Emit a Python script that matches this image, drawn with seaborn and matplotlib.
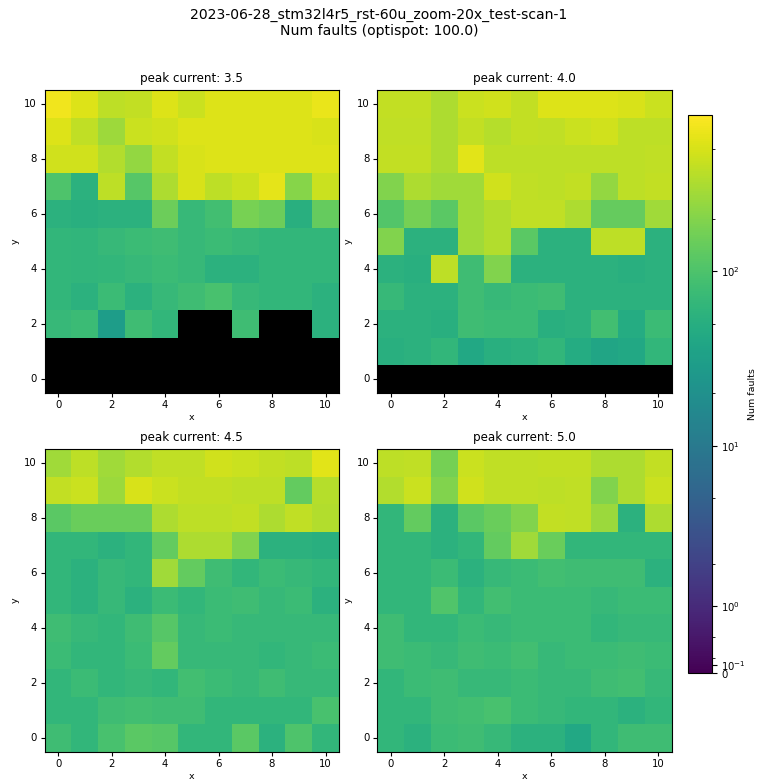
import numpy as np
import matplotlib
matplotlib.use("Agg")
import matplotlib.pyplot as plt
import matplotlib.colors as mcolors
import matplotlib.cm as cm
import seaborn as sns

# Num faults per scan position, rows listed from y=10 (top) down to y=0, x = 0..10
peak_currents = [3.5, 4.0, 4.5, 5.0]

faults_35 = [
    [680, 543, 376, 405, 543, 436, 543, 543, 543, 543, 610],
    [543, 390, 270, 436, 470, 543, 543, 543, 543, 543, 505],
    [470, 470, 338, 242, 405, 505, 543, 543, 543, 543, 543],
    [100, 55, 376, 112, 315, 505, 376, 436, 590, 210, 436],
    [55, 52, 55, 55, 150, 69, 86, 175, 150, 52, 140],
    [64, 62, 69, 75, 80, 69, 75, 69, 64, 64, 64],
    [64, 62, 64, 69, 75, 69, 55, 55, 64, 64, 64],
    [64, 55, 75, 55, 69, 80, 93, 69, 64, 64, 55],
    [69, 75, 29, 80, 64, 0, 0, 80, 0, 0, 55],
    [0, 0, 0, 0, 0, 0, 0, 0, 0, 0, 0],
    [0, 0, 0, 0, 0, 0, 0, 0, 0, 0, 0],
]
faults_40 = [
    [405, 405, 315, 436, 470, 405, 543, 543, 543, 505, 436],
    [390, 390, 315, 405, 350, 405, 390, 436, 470, 376, 376],
    [405, 405, 315, 565, 376, 376, 376, 376, 376, 376, 390],
    [195, 315, 280, 280, 470, 390, 376, 405, 242, 376, 405],
    [108, 168, 121, 280, 338, 390, 390, 315, 140, 140, 280],
    [195, 55, 55, 280, 338, 121, 55, 55, 376, 376, 55],
    [55, 52, 376, 80, 195, 55, 55, 55, 55, 52, 55],
    [69, 55, 55, 80, 69, 75, 80, 55, 55, 55, 55],
    [55, 55, 52, 80, 75, 75, 52, 55, 86, 47, 75],
    [52, 55, 64, 41, 52, 55, 64, 47, 38, 41, 64],
    [0, 0, 0, 0, 0, 0, 0, 0, 0, 0, 0],
]
faults_45 = [
    [280, 376, 280, 338, 390, 390, 470, 436, 405, 376, 565],
    [405, 436, 260, 505, 436, 405, 405, 376, 376, 135, 350],
    [121, 145, 145, 145, 315, 376, 376, 405, 315, 390, 338],
    [64, 64, 55, 64, 135, 315, 315, 195, 55, 55, 52],
    [64, 55, 69, 64, 280, 135, 80, 64, 75, 69, 64],
    [64, 55, 69, 55, 75, 64, 75, 80, 69, 75, 55],
    [80, 69, 64, 80, 112, 69, 75, 69, 69, 69, 69],
    [75, 64, 64, 75, 135, 69, 69, 69, 64, 69, 75],
    [64, 75, 64, 69, 64, 86, 75, 69, 80, 69, 69],
    [64, 64, 80, 86, 80, 80, 64, 64, 64, 64, 93],
    [80, 64, 93, 121, 112, 64, 64, 121, 55, 100, 64],
]
faults_50 = [
    [376, 390, 168, 436, 390, 390, 405, 405, 315, 315, 405],
    [338, 436, 195, 470, 390, 390, 376, 390, 195, 315, 436],
    [64, 135, 55, 121, 145, 195, 405, 390, 260, 55, 315],
    [64, 64, 55, 64, 135, 280, 145, 64, 64, 64, 64],
    [64, 64, 75, 55, 69, 75, 86, 80, 80, 80, 55],
    [64, 64, 104, 64, 86, 75, 75, 75, 69, 75, 75],
    [80, 64, 64, 75, 69, 75, 75, 75, 64, 69, 69],
    [80, 75, 69, 80, 75, 86, 69, 75, 75, 80, 75],
    [64, 75, 80, 69, 69, 75, 69, 69, 80, 86, 69],
    [64, 64, 80, 86, 93, 75, 69, 64, 64, 55, 64],
    [64, 55, 75, 80, 69, 55, 55, 41, 64, 80, 80],
]
grids = [faults_35, faults_40, faults_45, faults_50]
tick_vals = [0, 2, 4, 6, 8, 10]

norm = mcolors.AsinhNorm(linear_width=1, vmin=0, vmax=790)

fig, axes = plt.subplots(2, 2, figsize=(7.58, 7.83), dpi=100)
fig.subplots_adjust(left=0.059, right=0.886, bottom=0.04, top=0.885,
                    wspace=0.131, hspace=0.187)

for ax, pc, grid in zip(axes.flat, peak_currents, grids):
    data = np.array(grid, dtype=float)[::-1]  # row index = y
    sns.heatmap(data, ax=ax, cmap="viridis", norm=norm, mask=(data == 0),
                cbar=False)
    ax.set_facecolor("black")
    ax.set_ylim(0, 11)
    ax.set_xlim(0, 11)
    for sp in ax.spines.values():
        sp.set_visible(True)
        sp.set_linewidth(0.8)
    ax.set_xticks(np.array(tick_vals) + 0.5)
    ax.set_xticklabels(tick_vals, rotation=0)
    ax.set_yticks(np.array(tick_vals) + 0.5)
    ax.set_yticklabels(tick_vals, rotation=0)
    ax.tick_params(labelsize=7.3, length=3, pad=2.5)
    ax.set_xlabel("x", fontsize=6.8, labelpad=2)
    ax.set_ylabel("y", fontsize=6.8, labelpad=3)
    ax.set_title(f"peak current: {pc}", fontsize=8.6)

cax = fig.add_axes([0.907, 0.1405, 0.032, 0.713])
cb = fig.colorbar(cm.ScalarMappable(norm=norm, cmap="viridis"), cax=cax)
cb.ax.tick_params(labelsize=7.3)
cb.set_label("Num faults", fontsize=6.8, labelpad=1)

fig.suptitle("2023-06-28_stm32l4r5_rst-60u_zoom-20x_test-scan-1\nNum faults (optispot: 100.0)",
             fontsize=10.1, y=0.99)

fig.savefig("out.png", dpi=100)
